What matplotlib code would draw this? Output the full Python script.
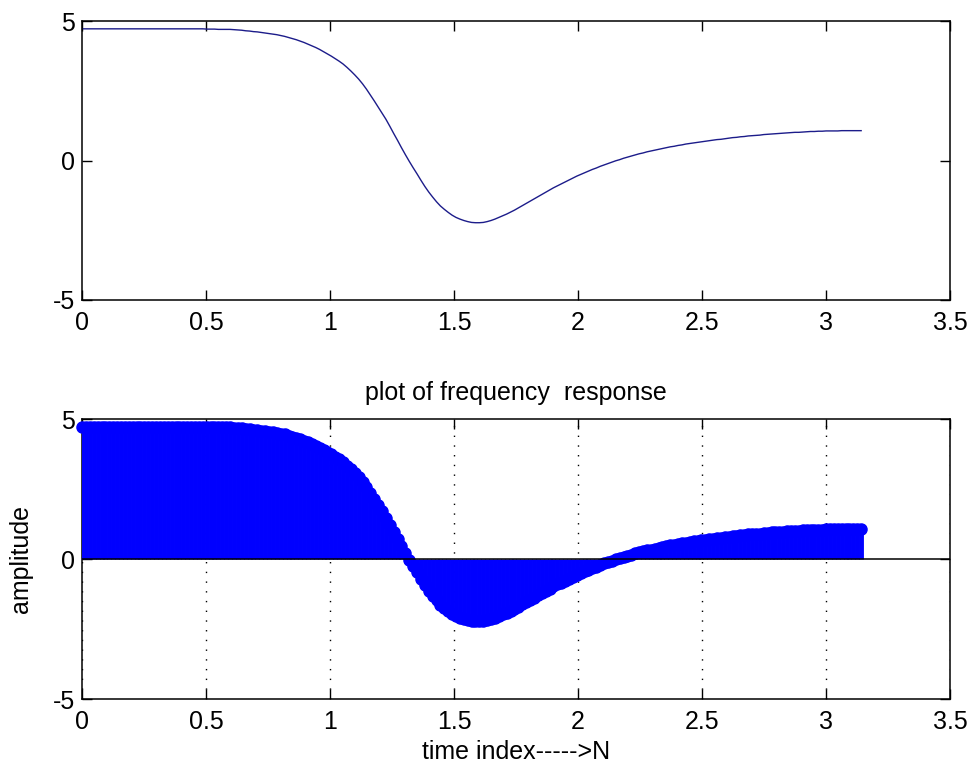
import numpy as np
import matplotlib
matplotlib.use('Agg')
import matplotlib.pyplot as plt

plt.rcParams['font.family'] = ['Liberation Sans', 'DejaVu Sans']
plt.rcParams['axes.unicode_minus'] = False

# real part of the frequency response, sampled on 0..pi (201 points)
amp = [4.72, 4.72, 4.72, 4.72, 4.72, 4.72, 4.72, 4.72, 4.72, 4.72,
       4.72, 4.72, 4.72, 4.72, 4.72, 4.72, 4.72, 4.72, 4.72, 4.72,
       4.72, 4.72, 4.72, 4.72, 4.72, 4.72, 4.72, 4.72, 4.72, 4.72,
       4.72, 4.72, 4.71, 4.71, 4.71, 4.70, 4.70, 4.70, 4.70, 4.69,
       4.68, 4.67, 4.65, 4.64, 4.62, 4.61, 4.59, 4.57, 4.55, 4.53,
       4.51, 4.48, 4.45, 4.41, 4.37, 4.33, 4.28, 4.23, 4.17, 4.11,
       4.05, 3.98, 3.90, 3.82, 3.74, 3.65, 3.56, 3.46, 3.34, 3.21,
       3.07, 2.92, 2.75, 2.56, 2.35, 2.14, 1.92, 1.70, 1.48, 1.23,
       0.97, 0.72, 0.46, 0.21, -0.03, -0.26, -0.48, -0.71, -0.93, -1.13,
       -1.31, -1.48, -1.63, -1.75, -1.86, -1.96, -2.04, -2.10, -2.15, -2.19,
       -2.22, -2.23, -2.23, -2.22, -2.19, -2.15, -2.10, -2.04, -1.98, -1.92,
       -1.85, -1.78, -1.70, -1.62, -1.54, -1.46, -1.38, -1.30, -1.22, -1.14,
       -1.06, -0.98, -0.91, -0.84, -0.77, -0.70, -0.63, -0.56, -0.50, -0.44,
       -0.38, -0.32, -0.27, -0.21, -0.16, -0.11, -0.06, -0.01, 0.03, 0.08,
       0.12, 0.16, 0.20, 0.24, 0.27, 0.31, 0.34, 0.37, 0.40, 0.43,
       0.46, 0.49, 0.51, 0.54, 0.56, 0.59, 0.61, 0.63, 0.65, 0.67,
       0.69, 0.71, 0.73, 0.75, 0.76, 0.78, 0.80, 0.82, 0.83, 0.85,
       0.86, 0.88, 0.89, 0.90, 0.91, 0.93, 0.94, 0.95, 0.96, 0.97,
       0.98, 0.99, 1.00, 1.01, 1.01, 1.02, 1.03, 1.04, 1.04, 1.05,
       1.05, 1.06, 1.06, 1.06, 1.06, 1.07, 1.07, 1.07, 1.07, 1.07,
       1.07]
w = np.linspace(0, np.pi, len(amp))

x_ticks = [0, 0.5, 1, 1.5, 2, 2.5, 3, 3.5]
x_ticklabels = ['0', '0.5', '1', '1.5', '2', '2.5', '3', '3.5']
y_ticks = [-5, 0, 5]
y_ticklabels = ['-5', '0', '5']


def style_axes(ax):
    ax.set_xlim(0, 3.5)
    ax.set_ylim(-5, 5)
    ax.set_xticks(x_ticks)
    ax.set_xticklabels(x_ticklabels)
    ax.set_yticks(y_ticks)
    ax.set_yticklabels(y_ticklabels)
    ax.tick_params(direction='in', length=7, width=1, top=True, right=True,
                   labelsize=18, colors='black')
    ax.tick_params(axis='x', pad=8)
    ax.tick_params(axis='y', pad=5)
    for s in ax.spines.values():
        s.set_linewidth(1.1)


fig = plt.figure(figsize=(9.72, 7.70), dpi=100)

# upper plot: plain line
ax1 = fig.add_axes([0.0844, 0.6104, 0.893, 0.3623])
ax1.plot(w, amp, color='#1c1c8a', linewidth=1.0)
style_axes(ax1)

# lower plot: stem plot
ax2 = fig.add_axes([0.0844, 0.0922, 0.893, 0.3636])
ax2.vlines(w, 0, amp, colors='#0000ff', linewidth=3.5, zorder=3)
ax2.plot(w, amp, 'o', color='#0000ff', markersize=8, zorder=3, clip_on=False)
ax2.axhline(0, color='black', linewidth=1.1, zorder=4)
style_axes(ax2)
ax2.set_axisbelow(True)
ax2.grid(axis='x', linestyle=(0, (1, 6)), color='black', linewidth=1.0)
ax2.set_title('plot of frequency  response', fontsize=18, pad=14)
ax2.set_xlabel('time index----->N', fontsize=18, labelpad=4)
ax2.set_ylabel('amplitude', fontsize=18, labelpad=14)

fig.savefig('out.png', dpi=100)
